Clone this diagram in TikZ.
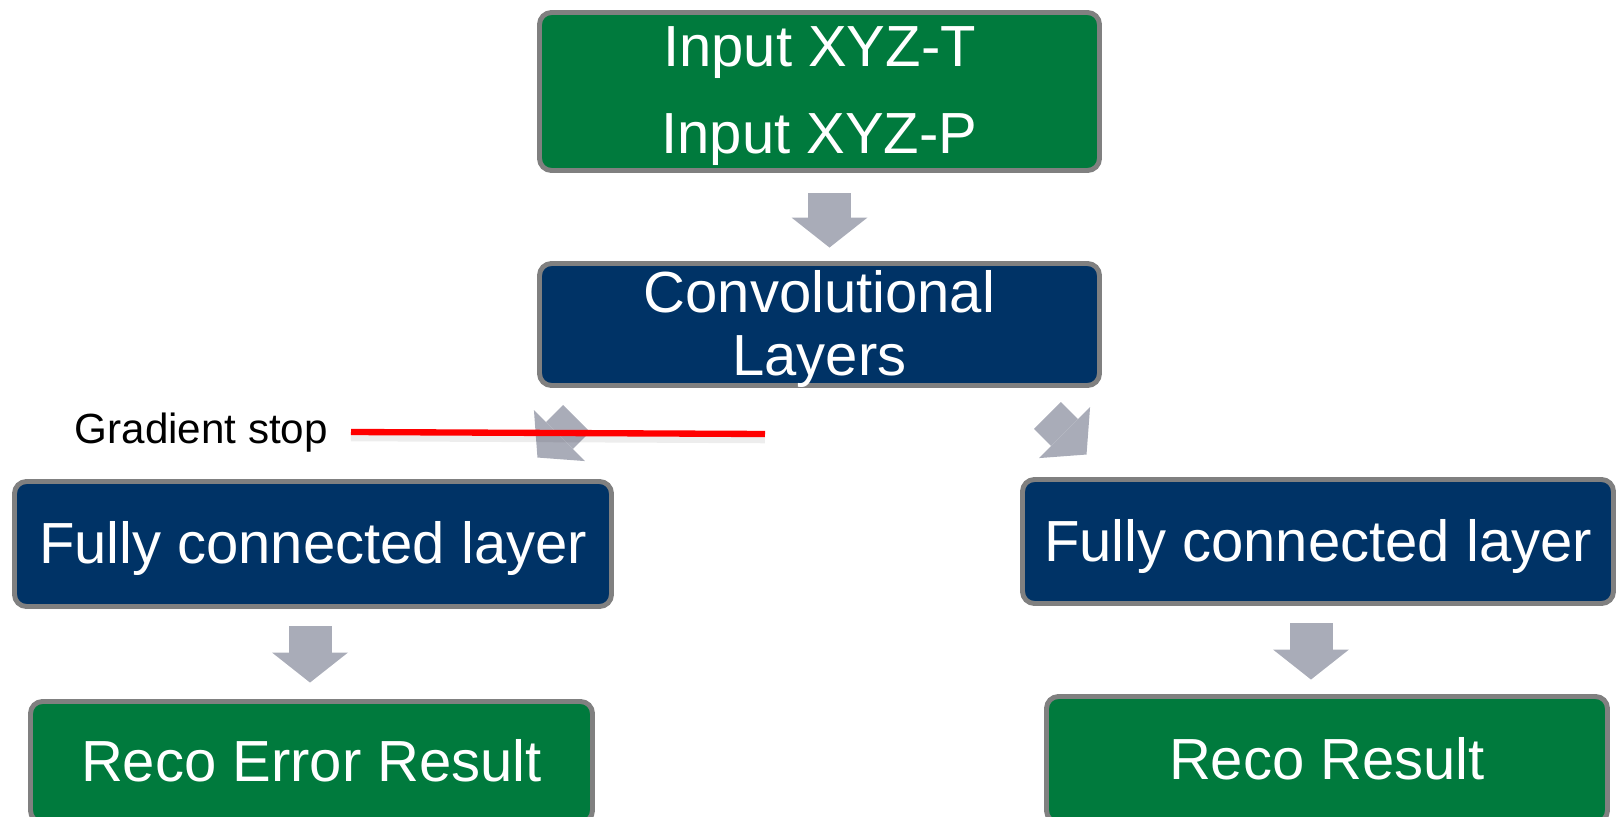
\documentclass[tikz,border=0pt]{standalone}
\usepackage{fontspec}
\setmainfont{Liberation Sans}
\usetikzlibrary{arrows.meta}
\definecolor{boxgreen}{RGB}{0,122,61}
\definecolor{boxnavy}{RGB}{0,51,102}
\definecolor{boxedge}{RGB}{128,128,128}
\definecolor{arrowgray}{RGB}{169,172,184}
\tikzset{
  box/.style={draw=boxedge, line width=1.4pt, rounded corners=0.12cm, text=white, align=center, inner sep=0pt, text depth=0.03cm, font=\fontsize{16.5}{18}\selectfont},
  gbox/.style={box, fill=boxgreen},
  nbox/.style={box, fill=boxnavy},
  blockarr/.style={draw=arrowgray, line width=0.43cm, -{Triangle[length=0.3cm,width=0.76cm,line width=0pt]}},
  diagarr/.style={draw=arrowgray, line width=0.38cm, -{Triangle[length=0.31cm,width=0.72cm,line width=0pt]}},
  stopline/.style={draw=red, line width=1.8pt},
  stopshadow/.style={draw=black, opacity=0.07, line width=3pt},
  stoplabel/.style={text=black, inner sep=0pt, font=\fontsize{12}{14}\selectfont},
}

\begin{document}
\begin{tikzpicture}
\useasboundingbox (0,0) rectangle (16.18,8.16);
\node[gbox, minimum width=5.60cm, minimum height=1.58cm] (input) at (8.195,7.245) {Input XYZ-T\\[6.5pt]Input XYZ-P};
\node[nbox, minimum width=5.60cm, minimum height=1.22cm] (conv) at (8.195,4.915) {Convolutional\\Layers};
\node[nbox, minimum width=5.97cm, minimum height=1.25cm] (fcl) at (3.13,2.72) {Fully connected layer};
\node[nbox, minimum width=5.91cm, minimum height=1.24cm] (fcr) at (13.18,2.745) {Fully connected layer};
\node[gbox, minimum width=5.62cm, minimum height=1.21cm] (resl) at (3.115,0.54) {Reco Error Result};
\node[gbox, minimum width=5.61cm, minimum height=1.26cm] (resr) at (13.27,0.565) {Reco Result};
\node[stoplabel, anchor=base west] (gstop) at (0.74,3.73) {Gradient stop};

\draw[blockarr, shorten <=0.205cm, shorten >=0.135cm] ([xshift=0.1cm]input.south) -- ([xshift=0.1cm]conv.north);
\draw[blockarr, shorten <=0.175cm, shorten >=0.165cm] ([xshift=-0.03cm]fcl.south) -- ([xshift=-0.03cm]fcl.south |- resl.north);
\draw[blockarr, shorten <=0.175cm, shorten >=0.145cm] ([xshift=-0.07cm]fcr.south) -- ([xshift=-0.07cm]fcr.south |- resr.north);
\draw[diagarr] ([shift={(0.395,-0.305)}]conv.south west) -- ([shift={(-0.765,0.215)}]fcl.north east);
\draw[diagarr] ([shift={(-0.545,-0.275)}]conv.south east) -- ([shift={(0.665,0.225)}]fcr.north west);

\coordinate (stopa) at (3.51,3.84);
\coordinate (stopb) at (7.65,3.82);
\draw[stopshadow] ([yshift=-0.04cm]stopa) -- ([yshift=-0.04cm]stopb);
\draw[stopline] (stopa) -- (stopb);
\end{tikzpicture}
\end{document}
